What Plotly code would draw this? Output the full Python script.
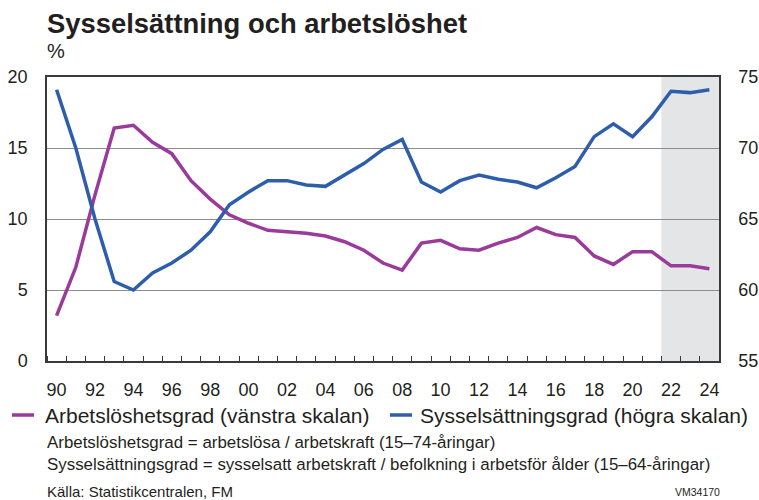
import plotly.graph_objects as go

years = list(range(1990, 2025))
unemployment = [3.2, 6.6, 11.7, 16.4, 16.6, 15.4, 14.6, 12.7, 11.4, 10.3,
                9.7, 9.2, 9.1, 9.0, 8.8, 8.4, 7.8, 6.9, 6.4, 8.3,
                8.5, 7.9, 7.8, 8.3, 8.7, 9.4, 8.9, 8.7, 7.4, 6.8,
                7.7, 7.7, 6.7, 6.7, 6.5]
employment = [74.1, 70.0, 65.0, 60.6, 60.0, 61.2, 61.9, 62.8, 64.1, 66.0,
              66.9, 67.7, 67.7, 67.4, 67.3, 68.1, 68.9, 69.9, 70.6, 67.6,
              66.9, 67.7, 68.1, 67.8, 67.6, 67.2, 67.9, 68.7, 70.8, 71.7,
              70.8, 72.2, 74.0, 73.9, 74.1]
forecast_years = [2022, 2023, 2024]
x_tick_years = list(range(1990, 2025, 2))
x_tick_labels = [str(y)[2:] for y in x_tick_years]
left_ticks = [0, 5, 10, 15, 20]
right_ticks = [55, 60, 65, 70, 75]

name_u = "Arbetslöshetsgrad (vänstra skalan)"
name_e = "Sysselsättningsgrad (högra skalan)"

FONT = "Liberation Sans, Arial, Helvetica, sans-serif"
TXT = "#231f20"
PURPLE = "#9a3a9a"
BLUE = "#2e5eab"

# plot area in pixels
L, R, T, B = 47, 719, 77, 361
W, H = 759, 500
PW, PH = R - L, B - T


def px(xp):
    return (xp - L) / PW


def py(yp):
    return (B - yp) / PH


fig = go.Figure()
fig.add_trace(go.Scatter(x=years, y=unemployment, name=name_u, mode="lines",
                         line=dict(color=PURPLE, width=3.5), yaxis="y"))
fig.add_trace(go.Scatter(x=years, y=employment, name=name_e, mode="lines",
                         line=dict(color=BLUE, width=3.5), yaxis="y2"))

fig.add_shape(type="rect", xref="x", yref="paper",
              x0=forecast_years[0] - 0.5, x1=forecast_years[-1] + 0.5, y0=0, y1=1,
              fillcolor="#e4e5e7", line=dict(width=0), layer="below")

# legend (drawn manually so it sits on one row like the original)
legend_items = [(name_u, PURPLE, 12, 34, 43), (name_e, BLUE, 390, 412, 418)]
LEG_Y = 415
for name, color, x0, x1, xt in legend_items:
    fig.add_shape(type="line", xref="paper", yref="paper",
                  x0=px(x0), x1=px(x1), y0=py(LEG_Y), y1=py(LEG_Y),
                  line=dict(color=color, width=3.5))

fig.update_layout(
    width=W, height=H,
    margin=dict(l=L, r=W - R, t=T, b=H - B, pad=0, autoexpand=False),
    paper_bgcolor="white", plot_bgcolor="white",
    font=dict(family=FONT, color=TXT),
    showlegend=False,
    xaxis=dict(range=[years[0] - 0.5, years[-1] + 0.5], automargin=False,
               tickmode="array", tickvals=x_tick_years, ticktext=x_tick_labels,
               ticks="", showgrid=False, zeroline=False,
               showline=True, linecolor="#3a3a3a", linewidth=1.5, mirror=True,
               tickfont=dict(size=18, family=FONT, color=TXT),
               ticklabelstandoff=12,
               minor=dict(tickmode="linear", tick0=years[0] - 0.5, dtick=1,
                          ticks="inside", ticklen=5, tickwidth=1.2,
                          tickcolor="#3a3a3a", showgrid=False)),
    yaxis=dict(range=[0, 20], tickmode="array", tickvals=left_ticks, automargin=False,
               ticks="", showgrid=True, gridcolor="#8c8c8c", gridwidth=1.3,
               zeroline=False, showline=True, linecolor="#3a3a3a", linewidth=1.5,
               tickfont=dict(size=18, family=FONT, color=TXT),
               ticklabelstandoff=14),
    yaxis2=dict(range=[55, 75], tickmode="array", tickvals=right_ticks, automargin=False,
                overlaying="y", side="right", ticks="", showgrid=False,
                zeroline=False, showline=True, linecolor="#3a3a3a", linewidth=1.5,
                tickfont=dict(size=18, family=FONT, color=TXT),
                ticklabelstandoff=14),
)

annotations = [
    dict(text="<b>Sysselsättning och arbetslöshet</b>", x=px(45), y=py(24),
         xanchor="left", yanchor="middle", font=dict(size=27.4, family=FONT, color=TXT)),
    dict(text="%", x=px(45), y=py(51), xanchor="left", yanchor="middle",
         font=dict(size=20, family=FONT, color=TXT)),
    dict(text="Arbetslöshetsgrad = arbetslösa / arbetskraft (15–74-åringar)",
         x=px(45), y=py(442), xanchor="left", yanchor="middle",
         font=dict(size=16.9, family=FONT, color=TXT)),
    dict(text="Sysselsättningsgrad = sysselsatt arbetskraft / befolkning i arbetsför ålder (15–64-åringar)",
         x=px(45), y=py(464), xanchor="left", yanchor="middle",
         font=dict(size=16.9, family=FONT, color=TXT)),
    dict(text="Källa: Statistikcentralen, FM", x=px(45), y=py(491),
         xanchor="left", yanchor="middle", font=dict(size=15, family=FONT, color=TXT)),
    dict(text="VM34170", x=px(722), y=py(492), xanchor="right", yanchor="middle",
         font=dict(size=10.5, family=FONT, color=TXT)),
]
for name, color, x0, x1, xt in legend_items:
    annotations.append(dict(text=name, x=px(xt), y=py(LEG_Y), xanchor="left",
                            yanchor="middle", font=dict(size=21, family=FONT, color=TXT)))
for a in annotations:
    a.update(xref="paper", yref="paper", showarrow=False)
fig.update_layout(annotations=annotations)

fig.write_html("out.html", config={"displayModeBar": False},
               post_script="document.body.style.margin='0';document.body.style.padding='0';")
